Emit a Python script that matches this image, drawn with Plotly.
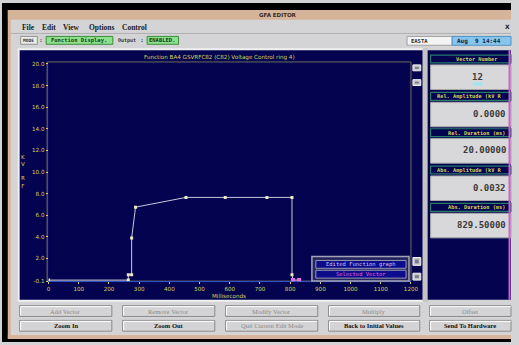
import plotly.graph_objects as go

# ---- function vectors (time in ms, amplitude in kV RF) ----
time_ms = [0, 264, 264, 275, 275, 288, 455, 585, 723, 806, 806, 809.5, 829.5]
amp_kv = [0.0, 0.0, 0.5, 0.5, 3.9, 6.75, 7.65, 7.65, 7.65, 7.65, 0.5, 0.0, 0.0032]
selected_idx = [11, 12]

x_ticks = list(range(0, 1300, 100))
y_ticks = [-0.1, 2, 4, 6, 8, 10, 12, 14, 16, 18, 20]
y_ticktext = ["-0.1", "2.0", "4.0", "6.0", "8.0", "10.0", "12.0", "14.0", "16.0", "18.0", "20.0"]

menu_items = ["File", "Edit", "View", "Options", "Control"]
menu_x = [27, 48, 71, 102, 135]

field_headers = ["Vector Number", "Rel. Amplitude (kV R", "Rel. Duration (ms)",
                 "Abs. Amplitude (kV R", "Abs. Duration (ms)"]
field_values = ["12", "0.0000", "20.00000", "0.0032", "829.50000"]

button_row1 = ["Add Vector", "Remove Vector", "Modify Vector", "Multiply", "Offset"]
button_row2 = ["Zoom In", "Zoom Out", "Quit Current Edit Mode", "Back to Initial Values", "Send To Hardware"]
row2_enabled = [True, True, False, True, True]

W, H = 519, 345
NAVY = "#03034f"
GRAY = "#d4d4d6"
YEL = "#d4d45a"


def px(x):
    return x / W


def py(y):
    return 1 - y / H


shapes = []
annots = []


def rect(x0, y0, x1, y1, fill, line=None, lw=0, layer="below"):
    x1 = min(x1, W)
    shapes.append(dict(type="rect", xref="paper", yref="paper",
                       x0=px(x0), x1=px(x1), y0=py(y1), y1=py(y0),
                       fillcolor=fill, layer=layer,
                       line=dict(color=line or fill, width=lw)))


def hline(x0, x1, y, color, lw=1, layer="below"):
    shapes.append(dict(type="line", xref="paper", yref="paper",
                       x0=px(x0), x1=px(min(x1, W)), y0=py(y), y1=py(y),
                       line=dict(color=color, width=lw), layer=layer))


def vline(x, y0, y1, color, lw=1, layer="below"):
    shapes.append(dict(type="line", xref="paper", yref="paper",
                       x0=px(x), x1=px(x), y0=py(y0), y1=py(y1),
                       line=dict(color=color, width=lw), layer=layer))


def text(x, y, s, size=6, color="#000", family="DejaVu Sans", xanchor="center"):
    annots.append(dict(xref="paper", yref="paper", x=px(x), y=py(y), text=s,
                       showarrow=False, xanchor=xanchor, yanchor="middle",
                       font=dict(size=size, color=color, family=family),
                       borderpad=0))


def button(x0, y0, x1, y1):
    rect(x0, y0, x1, y1, GRAY, "#8a8a8a", 1)
    hline(x0 + 1, x1 - 1, y0 + 1, "#ffffff")
    vline(x0 + 1, y0 + 1, y1 - 1, "#ffffff")


# ---- window frame ----
rect(0, 0, W, H, GRAY)
rect(0, 0, W, 7, "#000000")
rect(0, 0, 6, H, "#000000")
rect(0, 342, W, H, "#000000")
rect(6, 338, W, 342, "#d8b49a")
rect(6, 7, 9, 342, "#d8b49a")
rect(6, 7, W, 17, "#d6b49a")
text(281, 12.5, "<b>GFA EDITOR</b>", 5.5, "#3a2a20")

# menu bar
for m, mx in zip(menu_items, menu_x):
    text(mx, 25, "<b>" + m + "</b>", 7.5, "#202020", "Liberation Serif")
text(519, 24, "<b>X</b>", 6, "#202020", xanchor="right")
hline(9, W, 31, "#b0b0b0")

# status row
rect(19, 34, 36, 42, "#ececec", "#909090", 1)
text(27.5, 38, "<b>MODE</b>", 4.5, "#303030", "DejaVu Sans Mono")
text(40, 38, "<b>:</b>", 5, "#303030")
rect(45, 34, 113, 42, "#8ee08e", "#3c8c3c", 1)
text(79, 38, "<b>Function Display.</b>", 5.5, "#104010", "DejaVu Sans Mono")
text(127, 38, "<b>Output</b>", 5, "#303030", "DejaVu Sans Mono")
text(143, 38, "<b>:</b>", 5, "#303030")
rect(148, 34, 180, 42, "#8ee08e", "#3c8c3c", 1)
text(164, 38, "<b>ENABLED.</b>", 5.5, "#104010", "DejaVu Sans Mono")
rect(413, 34, 459, 43, "#f4f4f4", "#a0a0a0", 1)
text(416, 38.5, "<b>EASTA</b>", 5.5, "#303030", "DejaVu Sans Mono", "left")
rect(459, 34, W, 43, "#86c6ee", "#5090c0", 1)
text(463, 38.5, "<b>Aug  9 14:44</b>", 6, "#102040", "DejaVu Sans Mono", "left")

# ---- plot panel ----
rect(16, 46, 430, 304, "#f0f0f0")
rect(18, 48, 429, 302, NAVY)
rect(46, 60, 417, 283, NAVY, "#6c6c5c", 1)
vline(46.5, 60, 284, "#3050c8", 1)
hline(46, 417, 283.5, "#3050c8", 1)
text(222, 55, "Function BA4 GSVRFC82 (C82) Voltage Control ring 4)", 5.6, YEL)
text(231, 298.5, "Milliseconds", 5.6, YEL)
text(21, 171, "K<br>V<br> <br>R<br>F", 5.5, YEL)

# small scale buttons beside the plot
for y0, y1 in [(63, 69), (78, 84), (259, 267), (275, 282)]:
    rect(419, y0, 427, y1, "#c8c8d0", "#f0f0f0", 1)
    rect(421, y0 + 2, 425, y1 - 2, "#7c7c8c")

# legend box
rect(316, 258, 415, 283, "#25255e", "#a4a4b8", 1.5)
rect(320, 262, 412, 270, "#0c0c8c", "#9898b0", 1)
rect(320, 272, 412, 280, "#0c0c8c", "#9898b0", 1)
text(366, 266, "Edited Function graph", 5.5, "#c4c4f0", "DejaVu Sans Mono")
text(366, 276, "Selected Vector", 5.5, "#e060e0", "DejaVu Sans Mono")

# ---- right info panel ----
rect(429, 46, 434, 304, "#c4c4c4")
rect(434, 48, W, 302, NAVY)
head_y = [53, 91, 128, 166, 204]
for hdr, val, hy in zip(field_headers, field_values, head_y):
    rect(437, hy, W, hy + 8, NAVY, "#2a7a6a", 1.2)
    if hdr.endswith("R"):
        text(443, hy + 4, "<b>" + hdr + "</b>", 5.3, YEL, "DejaVu Sans Mono", "left")
    else:
        text(484, hy + 4, "<b>" + hdr + "</b>", 5.3, YEL, "DejaVu Sans Mono")
    rect(437, hy + 10, W, hy + 35, "#d8d8da", "#a8a8a8", 1)
    if val == "12":
        text(485, hy + 22, "<b>" + val + "</b>", 9, "#3a3a3a", "DejaVu Sans Mono")
        rect(480, hy + 28, 490, hy + 31, "#9ce8ee")
    else:
        text(515, hy + 22, "<b>" + val + "</b>", 9, "#3a3a3a", "DejaVu Sans Mono", "right")
vline(517.5, 48, 302, "#d060d0", 2)

# ---- command buttons ----
btn_x = [(18, 112), (123, 217), (228, 322), (333, 426), (436, 530)]
for (x0, x1), lab1, lab2, en in zip(btn_x, button_row1, button_row2, row2_enabled):
    cx = (x0 + x1) / 2 if x1 < 500 else 477
    button(x0, 308, x1, 319)
    text(cx, 313.5, lab1, 6.5, "#8a8a8a", "Liberation Serif")
    button(x0, 323, x1, 334)
    lab = "<b>" + lab2 + "</b>" if en else lab2
    text(cx, 328.5, lab, 6.5, "#101010" if en else "#8a8a8a", "Liberation Serif")

# ---- data traces ----
fig = go.Figure()
fig.add_trace(go.Scatter(
    x=time_ms, y=amp_kv, mode="lines+markers",
    line=dict(color="#c8c8dc", width=1),
    marker=dict(symbol="square", size=3, color="#ecebc4"),
    hoverinfo="x+y", showlegend=False))
fig.add_trace(go.Scatter(
    x=[time_ms[i] for i in selected_idx], y=[amp_kv[i] for i in selected_idx],
    mode="markers", marker=dict(symbol="square", size=4, color="#e070e0"),
    showlegend=False))

fig.update_layout(
    width=W, height=H, autosize=False,
    margin=dict(l=0, r=0, t=0, b=0),
    paper_bgcolor=GRAY,
    plot_bgcolor="rgba(0,0,0,0)",
    shapes=shapes, annotations=annots,
    xaxis=dict(domain=[px(47.5), px(417)], range=[0, 1200],
               tickvals=x_ticks, ticks="outside", ticklen=2, tickcolor=YEL,
               tickfont=dict(size=5.6, color=YEL, family="DejaVu Sans"),
               showgrid=False, zeroline=False, showline=False, fixedrange=True),
    yaxis=dict(domain=[py(283.1), py(62)], range=[-0.1, 20],
               tickvals=y_ticks, ticktext=y_ticktext, ticks="outside", ticklen=2,
               tickcolor=YEL, tickfont=dict(size=5.6, color=YEL, family="DejaVu Sans"),
               showgrid=False, zeroline=False, showline=False, fixedrange=True),
)

fig.write_html("out.html", config={"displayModeBar": False, "responsive": False},
               post_script="document.documentElement.style.overflow='hidden';"
                           "document.body.style.overflow='hidden';"
                           "document.body.style.margin='0';")
